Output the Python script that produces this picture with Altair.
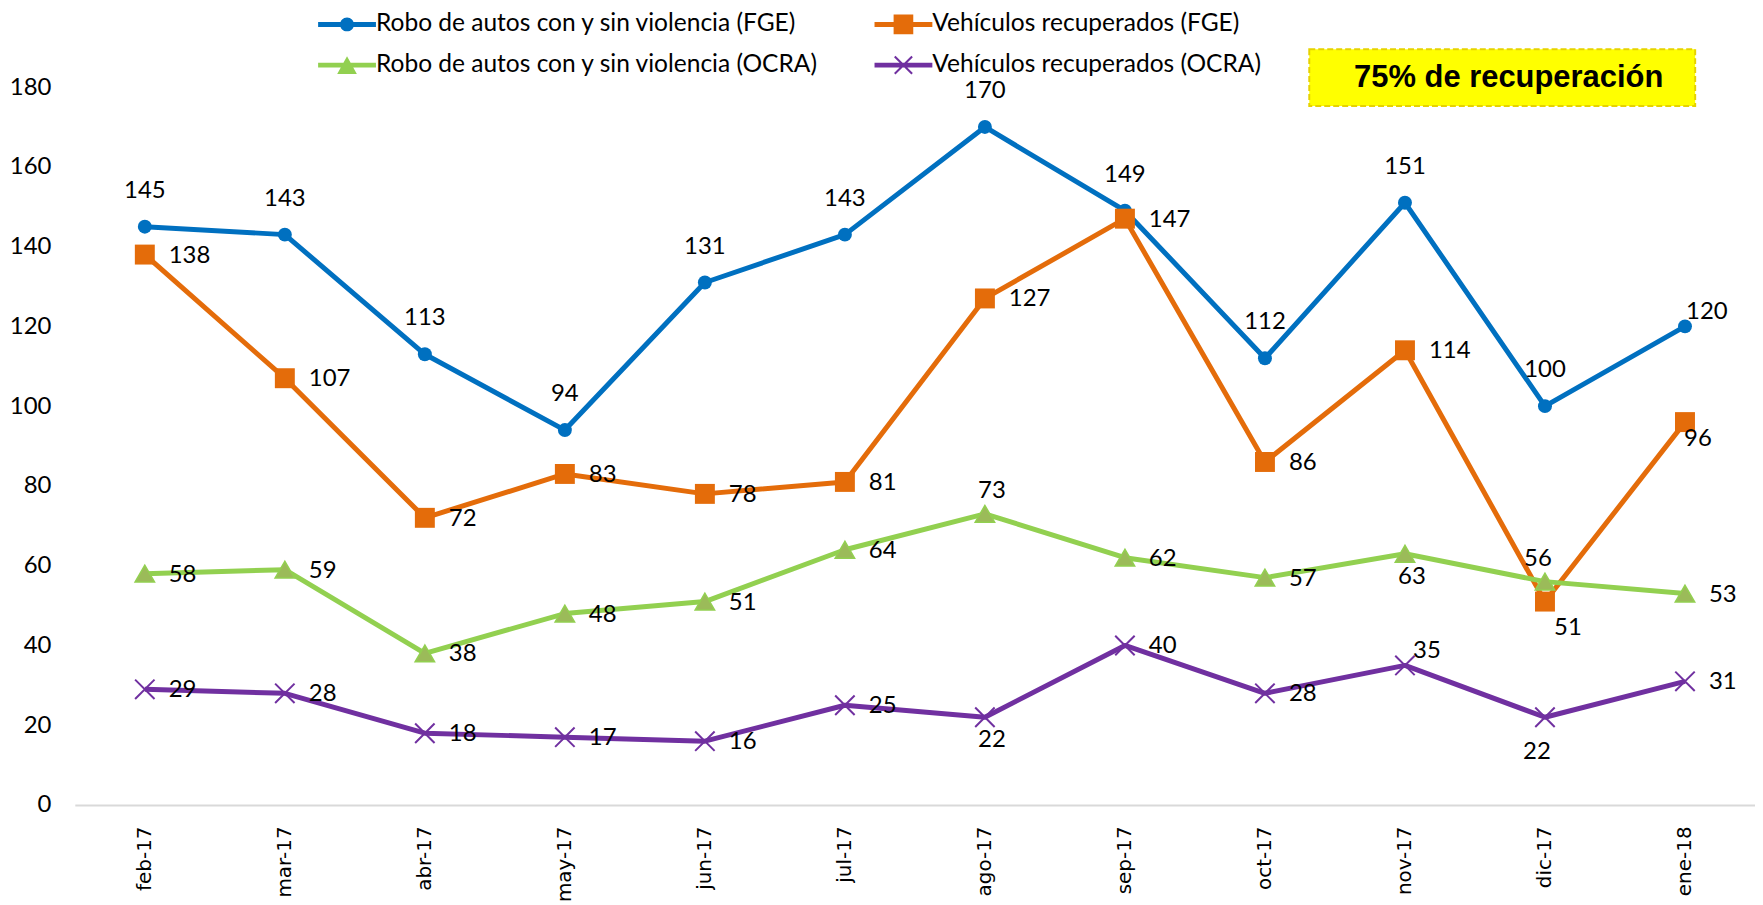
import altair as alt
import pandas as pd

months = ["feb-17", "mar-17", "abr-17", "may-17", "jun-17", "jul-17",
          "ago-17", "sep-17", "oct-17", "nov-17", "dic-17", "ene-18"]
series_names = [
    "Robo de autos con y sin violencia (FGE)",
    "Vehículos recuperados (FGE)",
    "Robo de autos con y sin violencia (OCRA)",
    "Vehículos recuperados (OCRA)",
]
robo_fge = [145, 143, 113, 94, 131, 143, 170, 149, 112, 151, 100, 120]
recup_fge = [138, 107, 72, 83, 78, 81, 127, 147, 86, 114, 51, 96]
robo_ocra = [58, 59, 38, 48, 51, 64, 73, 62, 57, 63, 56, 53]
recup_ocra = [29, 28, 18, 17, 16, 25, 22, 40, 28, 35, 22, 31]
y_ticks = [0, 20, 40, 60, 80, 100, 120, 140, 160, 180]
note_text = "75% de recuperación"

# label placement codes (like Excel's data-label position setting)
place_robo_fge = ["t"] * 11 + ["ur"]
place_recup_fge = ["r"] * 10 + ["br", "br2"]
place_robo_ocra = ["r", "r", "r", "r", "r", "r", "tr", "r", "r", "b", "tl", "r"]
place_recup_ocra = ["r", "r", "r", "r", "r", "r", "b", "r", "r", "ur", "bl", "r"]

colors = ["#0070C0", "#E46C0A", "#92D050", "#7030A0"]

rows = []
for name, vals, places in zip(series_names,
                              [robo_fge, recup_fge, robo_ocra, recup_ocra],
                              [place_robo_fge, place_recup_fge, place_robo_ocra, place_recup_ocra]):
    for i, (m, v, p) in enumerate(zip(months, vals, places)):
        rows.append({"month": m, "idx": i, "series": name, "value": v, "pos": p})
df = pd.DataFrame(rows)

legend_df = pd.DataFrame({"series": series_names, "month": [months[0]] * 4, "value": [-60] * 4})
note_df = pd.DataFrame({"t": [note_text]})

x_enc = alt.X("month:O", sort=months, title=None,
              scale=alt.Scale(type="point", padding=0.5),
              axis=alt.Axis(labelAngle=-90, ticks=False, domainColor="#D9D9D9", domainWidth=2,
                            labelFont="DejaVu Sans", labelFontSize=20, labelColor="black",
                            labelPadding=21, grid=False))
y_enc = alt.Y("value:Q", title=None,
              scale=alt.Scale(domain=[0, 180], nice=False, zero=True),
              axis=alt.Axis(values=y_ticks, ticks=False, domain=False, grid=False,
                            labelFont="Lato", labelFontSize=24, labelColor="black",
                            labelPadding=24))

base = alt.Chart(df)

lines = base.mark_line(strokeWidth=5, strokeJoin="round").encode(
    x=x_enc, y=y_enc,
    color=alt.Color("series:N", scale=alt.Scale(domain=series_names, range=colors), legend=None),
    detail="series:N",
    order=alt.Order("idx:Q"),
)

def pts(i, **kw):
    return base.transform_filter(alt.datum.series == series_names[i]).mark_point(**kw).encode(x=x_enc, y=y_enc)

p_blue = pts(0, shape="circle", filled=True, fill=colors[0], size=196, opacity=1)
p_orange = pts(1, shape="square", filled=True, fill=colors[1], size=400, opacity=1)
p_green = pts(2, shape="triangle-up", filled=True, fill="#9BBB59", stroke=colors[2],
              strokeWidth=1.5, size=380, opacity=1)
p_purple = pts(3, shape="M-1,-1L1,1M1,-1L-1,1", filled=False, stroke=colors[3],
               strokeWidth=2, size=380, opacity=1)

placements = {
    "t": ("center", 0, -36),
    "r": ("left", 24, 1),
    "ur": ("center", 22, -14),
    "tr": ("center", 7, -23),
    "tl": ("center", -7, -23),
    "b": ("center", 7, 23),
    "bl": ("center", -8, 35),
    "br": ("center", 23, 27),
    "br2": ("center", 13, 17),
}
text_layers = []
for code, (al, dx, dy) in placements.items():
    text_layers.append(
        base.transform_filter(alt.datum.pos == code).mark_text(
            align=al, baseline="middle", dx=dx, dy=dy, font="Lato", fontSize=24, color="black"
        ).encode(x=x_enc, y=y_enc, text="value:Q")
    )

r = 0.24
circle_p = (f"M-1,-0.086L1,-0.086L1,0.086L-1,0.086Z"
            f"M-{r},0A{r},{r} 0 1,1 {r},0A{r},{r} 0 1,1 -{r},0Z")
square_p = "M-1,-0.086L1,-0.086L1,0.086L-1,0.086ZM-0.34,-0.34L0.34,-0.34L0.34,0.34L-0.34,0.34Z"
tri_p = "M-1,-0.086L1,-0.086L1,0.086L-1,0.086ZM0,-0.31L0.34,0.31L-0.34,0.31Z"
x_p = ("M-1,-0.086L1,-0.086L1,0.086L-1,0.086Z"
       "M-0.275,-0.325L0.325,0.275L0.275,0.325L-0.325,-0.275Z"
       "M0.325,-0.275L-0.275,0.325L-0.325,0.275L0.275,-0.325Z")

leg = dict(title=None, orient="none", legendX=244, legendY=-92, columns=2, direction="horizontal",
           labelFont="Lato", labelFontSize=24.6, labelColor="black", labelLimit=0, symbolSize=3364,
           symbolStrokeWidth=0, symbolOpacity=1, labelOffset=0, rowPadding=-2, columnPadding=55)

legend_layer = alt.Chart(legend_df).mark_point(filled=True, opacity=1, clip=True).encode(
    x=x_enc, y=y_enc,
    color=alt.Color("series:N", scale=alt.Scale(domain=series_names, range=colors), legend=alt.Legend(**leg)),
    shape=alt.Shape("series:N", scale=alt.Scale(domain=series_names, range=[circle_p, square_p, tri_p, x_p]),
                    legend=alt.Legend(**leg)),
)

box = alt.Chart(note_df).mark_rect(fill="#FFFF00", stroke="#E6D200", strokeDash=[6, 3], strokeWidth=2).encode(
    x=alt.value(1238), x2=alt.value(1625), y=alt.value(-38), y2=alt.value(19))
box_text = alt.Chart(note_df).mark_text(font="Liberation Sans", fontWeight="bold", fontSize=31,
                                        align="center", baseline="middle", color="black").encode(
    x=alt.value(1438), y=alt.value(-9), text="t:N")

chart = alt.layer(lines, p_blue, p_orange, p_green, p_purple, *text_layers, legend_layer, box, box_text
                  ).resolve_scale(color="independent", shape="independent").properties(
    width=1685, height=720,
    autosize=alt.AutoSizeParams(type="none"),
    padding={"left": 67, "top": 78, "right": 0, "bottom": 95},
).configure_view(stroke=None)

chart.save("out.html", embed_options={"renderer": "svg", "actions": False})
